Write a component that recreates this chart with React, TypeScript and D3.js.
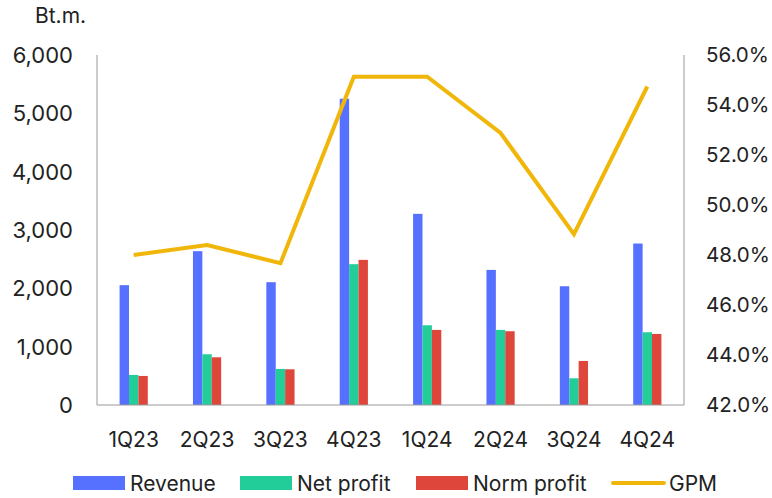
import React from 'react';
import * as d3 from 'd3';

const quarters = ['1Q23', '2Q23', '3Q23', '4Q23', '1Q24', '2Q24', '3Q24', '4Q24'];
const revenue = [2054, 2637, 2105, 5250, 3277, 2316, 2036, 2768];
const netProfit = [515, 870, 618, 2414, 1367, 1287, 458, 1247];
const normProfit = [498, 818, 612, 2488, 1287, 1264, 755, 1218];
const gpm = [48.0, 48.4, 47.67, 55.13, 55.13, 52.88, 48.83, 54.74];
const leftTicks = [0, 1000, 2000, 3000, 4000, 5000, 6000];
const rightTicks = [42, 44, 46, 48, 50, 52, 54, 56];

const W = 772, H = 498;
const left = 97, right = 684, top = 55, bottom = 405;
const font = 'Inter, "Noto Sans", sans-serif';
const gold = '#F0B70A';

const series = [
  { name: 'Revenue', values: revenue, color: '#5670FF' },
  { name: 'Net profit', values: netProfit, color: '#22CD99' },
  { name: 'Norm profit', values: normProfit, color: '#DE463B' },
];

export default function App() {
  const x = d3.scaleBand().domain(quarters).range([left, right]);
  const y = d3.scaleLinear().domain([0, 6000]).range([bottom, top]);
  const y2 = d3.scaleLinear().domain([42, 56]).range([bottom, top]);
  const barW = 9.4;
  const cx = (q: string) => x(q)! + x.bandwidth() / 2;

  const line = d3.line<number>()
    .x((_, i) => cx(quarters[i]))
    .y(d => y2(d));

  // legend positions
  const legendX = [73, 240, 416];

  return (
    <svg width={W} height={H} style={{ position: 'absolute', left: 0, top: 0, background: '#fff' }}>
      <text x={35} y={23} fontFamily={font} fontSize={21} fill="#222">Bt.m.</text>

      {series.map((s, si) => (
        <g key={s.name}>
          {s.values.map((v, i) => (
            <rect key={i}
              x={cx(quarters[i]) - 1.5 * barW + si * barW}
              y={y(v)} width={barW} height={bottom - y(v)} fill={s.color} />
          ))}
        </g>
      ))}

      <line x1={left} x2={left} y1={top} y2={bottom} stroke="#999" strokeWidth={1} />
      <line x1={right} x2={right} y1={top} y2={bottom} stroke="#999" strokeWidth={1} />
      <line x1={left} x2={right} y1={bottom} y2={bottom} stroke="#999" strokeWidth={1} />

      <path d={line(gpm)!} fill="none" stroke={gold} strokeWidth={4} strokeLinejoin="miter" />

      {leftTicks.map(t => (
        <text key={t} x={73} y={y(t)} dy="0.36em" textAnchor="end" fontFamily={font} fontSize={22} fill="#222">
          {d3.format(',')(t)}
        </text>
      ))}
      {rightTicks.map(t => (
        <text key={t} x={706} y={y2(t)} dy="0.36em" fontFamily={font} fontSize={20.5} fill="#222">
          {t.toFixed(1) + '%'}
        </text>
      ))}
      {quarters.map(q => (
        <text key={q} x={cx(q)} y={447} textAnchor="middle" fontFamily={font} fontSize={21} fill="#222">
          {q}
        </text>
      ))}

      {series.map((s, i) => (
        <g key={s.name}>
          <rect x={legendX[i]} y={476} width={52} height={14} fill={s.color} />
          <text x={legendX[i] + 57} y={491} fontFamily={font} fontSize={21} fill="#222">{s.name}</text>
        </g>
      ))}
      <line x1={613} x2={664} y1={483} y2={483} stroke={gold} strokeWidth={4} strokeLinecap="round" />
      <text x={669} y={491} fontFamily={font} fontSize={21} fill="#222">GPM</text>
    </svg>
  );
}
